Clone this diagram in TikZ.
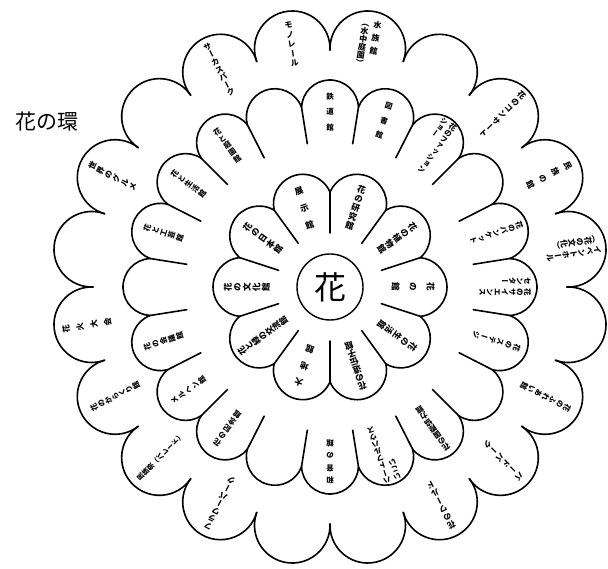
\documentclass[tikz,border=0pt]{standalone}
\usepackage{fontspec}
\newfontfamily\jp{Noto Sans CJK JP}
\newfontfamily\jpv[RawFeature=+vert]{Noto Sans CJK JP}
\newdimen\vtsep
\makeatletter
\def\vt@end{\vt@end}
\newcommand\vt[2][0pt]{\vtop{\offinterlineskip\vtsep=#1\relax\vt@first#2\vt@end}}
\def\vt@first#1{\vt@box{#1}\vt@next}
\def\vt@next#1{\ifx\vt@end#1\else\kern\vtsep\vt@box{#1}\expandafter\vt@next\fi}
\def\vt@box#1{\hbox to 1em{\hss\rule[-0.12em]{0pt}{1em}#1\hss}}
\makeatother
\newcommand\vtt[4][0pt]{\hbox{\vt[#1]{#3}\kern#2\vt[#1]{#4}}}
\begin{document}
\begin{tikzpicture}[x=1pt,y=1pt,line width=1.6pt,line cap=round,line join=round,
  lab/.style={inner sep=0pt,font=\jpv\bfseries\fontsize{7.5}{7.5}\selectfont},
  ilab/.style={inner sep=0pt,font=\jpv\bfseries\fontsize{8.5}{8.5}\selectfont},
  olab/.style={inner sep=0pt,font=\jpv\bfseries\fontsize{8}{8}\selectfont}]
\useasboundingbox (0,0) rectangle (608,568);
\node[font=\jp\fontsize{21}{21}\selectfont,inner sep=0pt] (title) at (47,446) {花の環};
\begin{scope}[shift={(330,281)}]
\node[draw,circle,minimum size=66pt,inner sep=0pt,line width=1.4pt,font=\jp\fontsize{32}{32}\selectfont] (hana) at (0,0) {花};
% inner ring
\foreach \a in {18,54,...,342} \draw (\a:54pt) -- (\a:95pt);
\foreach \a in {0,36,...,324} \draw (\a-18:95pt) arc[start angle=\a-84.47,end angle=\a+84.47,radius=29.49pt];
% middle ring
\foreach \a in {9,27,...,351} \draw (\a:145pt) -- (\a:182pt);
\foreach \a in {0,18,...,342} \draw (\a-9:182pt) arc[start angle=\a-87.47,end angle=\a+87.47,radius=28.5pt];
% outer ring
\foreach \a in {9,27,...,351} \draw (\a-9:237pt) arc[start angle=\a-100.93,end angle=\a+100.93,radius=37.76pt];
% inner labels
\node[ilab,rotate=-90] (i0) at (0:83pt) {\vt[9pt]{花の館}};
\node[ilab,rotate=-54] (i36) at (36:83pt) {\vt[1pt]{花の植物館}};
\node[ilab,rotate=-18] (i72) at (72:83pt) {\vt[1pt]{花の研究館}};
\node[ilab,rotate=18] (i108) at (108:83pt) {\vt[9pt]{展示館}};
\node[ilab,rotate=54] (i144) at (144:83pt) {\vt[1pt]{花の日本館}};
\node[ilab,rotate=90] (i180) at (180:83pt) {\vt[1pt]{花の文化館}};
\node[ilab,rotate=126] (i216) at (216:83pt) {\vt{花と緑の交流館}};
\node[ilab,rotate=162] (i252) at (252:83pt) {\vt[9pt]{大地館}};
\node[ilab,rotate=198] (i288) at (288:83pt) {\vt{花の遺伝子館}};
\node[ilab,rotate=234] (i324) at (324:83pt) {\vt[1pt]{花の生活館}};
% middle labels
\node[lab,rotate=-90] (m0) at (0:175pt) {\vtt{3pt}{センター}{花のサイエンス}};
\node[lab,rotate=-72] (m18) at (18:175pt) {\vt[0.5pt]{花のバンケット}};
\node[lab,rotate=-36] (m54) at (54:175pt) {\vtt{3pt}{ショー}{花のファッション}};
\node[lab,rotate=-18] (m72) at (72:175pt) {\vt[8pt]{図書館}};
\node[lab,rotate=0] (m90) at (90:175pt) {\vt[8pt]{鉄道館}};
\node[lab,rotate=36] (m126) at (126:175pt) {\vt[1pt]{花と庭園館}};
\node[lab,rotate=54] (m144) at (144:175pt) {\vt[1pt]{花と生活館}};
\node[lab,rotate=72] (m162) at (162:175pt) {\vt[1pt]{花と工芸館}};
\node[lab,rotate=108] (m198) at (198:175pt) {\vt[1pt]{花の会議館}};
\node[lab,rotate=126] (m216) at (216:175pt) {\vt[1pt]{メルヘン館}};
\node[lab,rotate=144] (m234) at (234:175pt) {\vt[1pt]{花の記念館}};
\node[lab,rotate=180] (m270) at (270:175pt) {\vt[5pt]{和音の館}};
\node[lab,rotate=198] (m288) at (288:175pt) {\vtt{3pt}{いこい}{ハートフルハウス}};
\node[lab,rotate=216] (m306) at (306:175pt) {\vt{花の国際協力館}};
\node[lab,rotate=252] (m342) at (342:175pt) {\vt[1pt]{花のステージ}};
% outer labels
\node[olab,rotate=-81] (o9) at (9:246pt) {\vtt{3pt}{（花の文化）}{イベントホール}};
\node[olab,rotate=-63] (o27) at (27:246pt) {\vt[6pt]{民族の館}};
\node[olab,rotate=-45] (o45) at (45:244pt) {\vt[1pt]{花のコンサート}};
\node[olab,rotate=-9] (o81) at (81:246pt) {\hbox{\vt{（水中庭園）}\kern4pt\vt[5pt]{水族館}}};
\node[olab,rotate=9] (o99) at (99:246pt) {\vt[1.5pt]{モノレール}};
\node[olab,rotate=27] (o117) at (117:244pt) {\vt[0.5pt]{サーカスパーク}};
\node[olab,rotate=63] (o153) at (153:244pt) {\vt[1pt]{世界のグルメ}};
\node[olab,rotate=99] (o189) at (189:246pt) {\vt[6pt]{花火大会}};
\node[olab,rotate=117,font=\jpv\bfseries\fontsize{7.5}{7.5}\selectfont] (o207) at (207:241pt) {\vt[0.3pt]{花のからくり館}};
\node[olab,rotate=135,font=\jpv\bfseries\fontsize{7}{7}\selectfont] (o225) at (225:240pt) {\vt{民族祭（パレード）}};
\node[olab,rotate=153] (o243) at (243:243pt) {\vt[0.5pt]{フラワーパーク}};
\node[olab,rotate=207] (o297) at (297:245pt) {\vt[1pt]{花のワールド}};
\node[olab,rotate=225] (o315) at (315:245pt) {\vt[1pt]{バードパーク}};
\node[olab,rotate=243,font=\jpv\bfseries\fontsize{7.5}{7.5}\selectfont] (o333) at (333:242pt) {\vt[0.5pt]{花のふれあい館}};
\end{scope}
\end{tikzpicture}
\end{document}
